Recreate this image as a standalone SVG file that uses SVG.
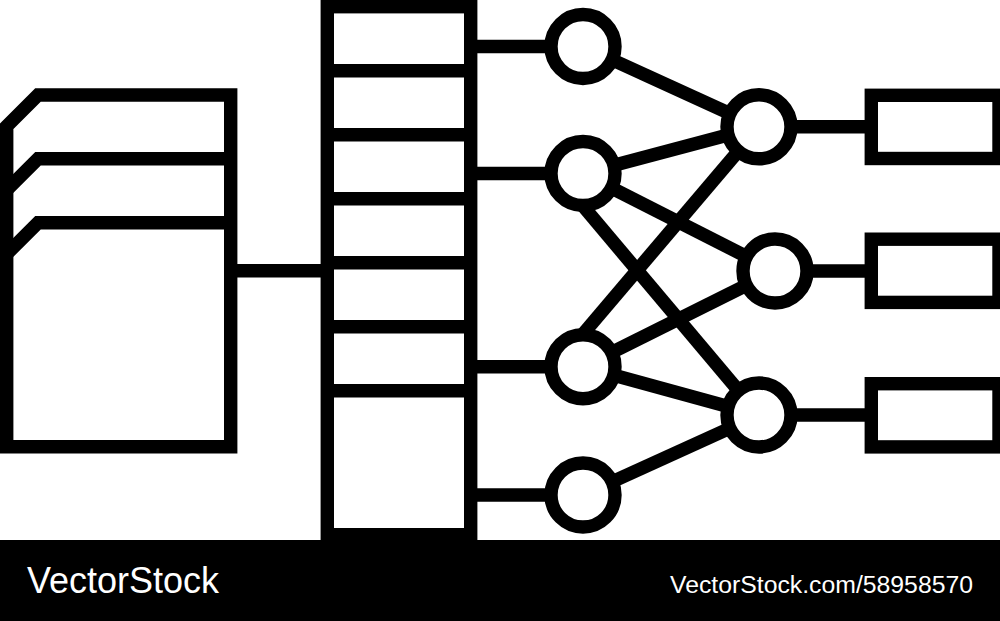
<svg xmlns="http://www.w3.org/2000/svg" width="1000" height="621" viewBox="0 0 1000 621">
  <style>
    .s { fill: none; stroke: #000; stroke-width: 13.4; stroke-linejoin: miter; }
    .n { fill: #fff; stroke: #000; stroke-width: 13.4; }
    .t { fill: #fff; font-family: "Liberation Sans", Arial, sans-serif; }
  </style>
  <rect width="1000" height="621" fill="#fff"/>

  <g id="connectors" class="s">
    <path d="M230 270.7 H328"/>
    <path d="M470 46.5 H583"/>
    <path d="M470 173.5 H583"/>
    <path d="M470 366.7 H583"/>
    <path d="M470 495 H583"/>
    <path d="M583 46.5 L759 126.8"/>
    <path d="M583 173.5 L759 126.8"/>
    <path d="M583 173.5 L775 271"/>
    <path d="M583 206 L759 415"/>
    <path d="M583 334 L759 126.8"/>
    <path d="M583 366.7 L775 271"/>
    <path d="M583 366.7 L759 415"/>
    <path d="M583 495 L759 415"/>
    <path d="M759 126.8 H872"/>
    <path d="M775 271 H872"/>
    <path d="M759 415 H872"/>
  </g>

  <g id="documents" class="s">
    <path d="M6.7 126.3 L38 95 H230.7 V446.7 H6.7 Z"/>
    <path d="M6.7 190 L38 158.7 H230.7"/>
    <path d="M6.7 254 L38 222.7 H230.7"/>
  </g>

  <g id="table" class="s">
    <rect x="327.3" y="6.7" width="143.4" height="528"/>
    <path d="M327.3 70.7 H470.7 M327.3 134.7 H470.7 M327.3 198.7 H470.7 M327.3 262.7 H470.7 M327.3 326.7 H470.7 M327.3 390.7 H470.7"/>
  </g>

  <g id="in1"><circle class="n" cx="583" cy="46.5" r="32"/></g>
  <g id="in2"><circle class="n" cx="583" cy="173.5" r="32"/></g>
  <g id="in3"><circle class="n" cx="583" cy="366.7" r="32"/></g>
  <g id="in4"><circle class="n" cx="583" cy="495" r="32"/></g>

  <g id="hid1"><circle class="n" cx="759" cy="126.8" r="32"/></g>
  <g id="hid2"><circle class="n" cx="775" cy="271" r="32"/></g>
  <g id="hid3"><circle class="n" cx="759" cy="415" r="32"/></g>

  <g id="out1"><rect class="n" x="871.3" y="95.3" width="127.7" height="63.2"/></g>
  <g id="out2"><rect class="n" x="871.3" y="239.2" width="127.7" height="63.2"/></g>
  <g id="out3"><rect class="n" x="871.3" y="383.7" width="127.7" height="63.2"/></g>

  <g id="footer">
    <rect x="0" y="540" width="1000" height="81" fill="#000"/>
    <text class="t" x="27" y="593.3" font-size="37" textLength="192" lengthAdjust="spacingAndGlyphs">VectorStock</text>
    <text class="t" x="670" y="592.7" font-size="23" textLength="303" lengthAdjust="spacingAndGlyphs">VectorStock.com/58958570</text>
  </g>
</svg>
